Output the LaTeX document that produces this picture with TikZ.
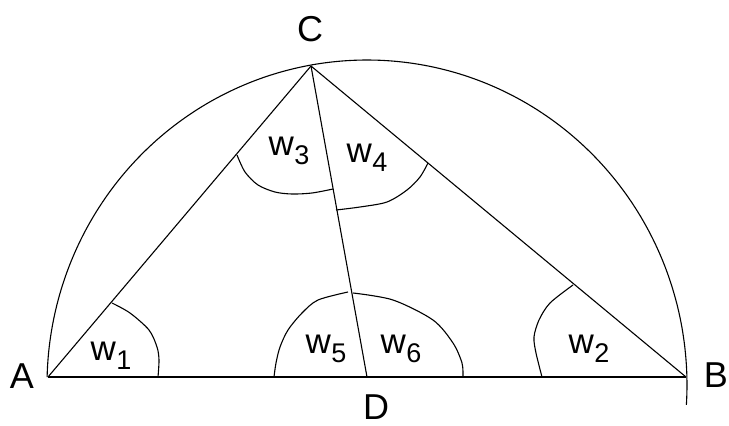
\documentclass[tikz,border=0pt]{standalone}
\usepackage{fontspec}
\setmainfont{Liberation Sans}
\newcommand{\wlab}[1]{w\kern0.5pt\raisebox{-9pt}{\fontsize{27}{27}\selectfont #1}}
\begin{document}
\begin{tikzpicture}[x=1pt,y=-1pt,line width=1.1pt,
  pt/.style={font=\fontsize{36}{36}\selectfont, inner sep=0pt, anchor=base},
  wl/.style={font=\fontsize{35}{35}\selectfont, inner sep=0pt, anchor=base west}]
\useasboundingbox (0,0) rectangle (729,426);
\coordinate (A) at (48,377);
\coordinate (B) at (686,377);
\coordinate (C) at (311,66);
\coordinate (D) at (367,377);
% big arc
\draw plot[domain=178.6:-3.5, samples=200] ({367+320*cos(\x)}, {385-325*sin(\x)});
% triangle
\draw (A) -- (B);
\draw (A) -- (C);
\draw (B) -- (C);
\draw (C) -- (D);
% angle arcs
\draw plot[smooth] coordinates {(112,303) (130,313) (149,330) (157,347) (159,360) (158,377)};
\draw plot[smooth] coordinates {(573,285) (550,303) (539,320) (534,337) (536,353) (542,377)};
\draw plot[smooth] coordinates {(237,155) (245,172) (258,185) (275,192) (292,194) (312,193) (333,189)};
\draw plot[smooth] coordinates {(336,210) (360,207) (387,202) (407,190) (420,177) (428,163)};
\draw plot[smooth] coordinates {(274,377) (276,363) (280,347) (288,330) (302,313) (318,300) (348,292)};
\draw plot[smooth] coordinates {(353,293) (393,300) (433,320) (453,343) (462,363) (463,377)};
% vertex labels
\node[pt] (lA) at (22,388) {A};
\node[pt] (lB) at (716,387) {B};
\node[pt] (lC) at (310,41) {C};
\node[pt] (lD) at (376,419) {D};
% angle labels
\node[wl] (w1) at (90,360) {\wlab{1}};
\node[wl] (w2) at (568,353) {\wlab{2}};
\node[wl] (w3) at (268,155) {\wlab{3}};
\node[wl] (w4) at (346,162) {\wlab{4}};
\node[wl] (w5) at (305,353) {\wlab{5}};
\node[wl] (w6) at (380,353) {\wlab{6}};
\end{tikzpicture}
\end{document}
